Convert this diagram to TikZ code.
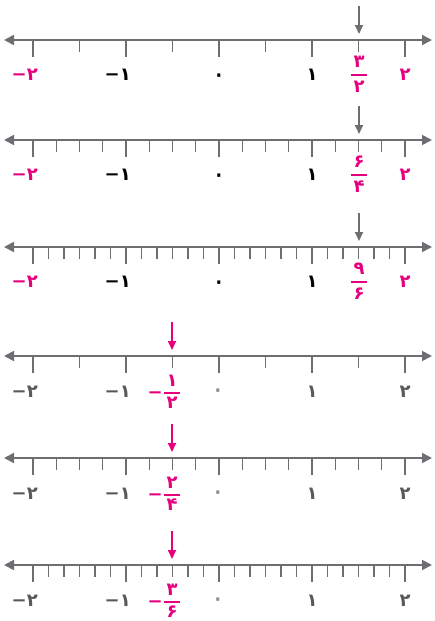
\documentclass[tikz,border=0pt]{standalone}
\usepackage{fontspec}
\usetikzlibrary{arrows.meta}
\newfontfamily\fanum{DejaVu Sans}
\definecolor{mag}{RGB}{230,0,126}
\definecolor{axgray}{RGB}{109,110,113}
\definecolor{lblgray}{RGB}{88,89,91}
\definecolor{zgray}{RGB}{140,140,142}

\begin{document}
\begin{tikzpicture}[x=1pt, y=-1pt,
  axis/.style={draw=axgray, line width=1.8pt,
               {Triangle[length=10pt,width=10pt]}-{Triangle[length=10pt,width=10pt]}},
  major/.style={draw=axgray, line width=1.6pt},
  minor/.style={draw=axgray, line width=1.1pt},
  ptr/.style={line width=1.8pt, -{Triangle[length=9pt,width=8pt]}},
  num/.style={font=\fontsize{18}{18}\selectfont\fanum\bfseries, inner sep=0pt},
  zero/.style={font=\fontsize{28}{28}\selectfont\fanum, inner sep=0pt},
  fbar/.style={fill, minimum width=16pt, minimum height=1.5pt, inner sep=0pt}
]
\useasboundingbox (0,0) rectangle (435,621);

% Rows 1-3: grey pointer at 3/2
\foreach \r/\y/\d/\n/\m in {1/40/2/۳/۲, 2/140/4/۶/۴, 3/247/6/۹/۶}{
  \coordinate (l\r) at (4,\y);
  \coordinate (r\r) at (432,\y);
  \draw[axis] (l\r) -- (r\r);
  \pgfmathtruncatemacro\nt{4*\d}
  \foreach \i in {0,...,\nt} \draw[minor] (33+93*\i/\d,\y) -- ++(0,12);
  \foreach \k in {0,...,4} \draw[major] (33+93*\k,\y) -- ++(0,17);
  % integer labels
  \node[num, mag, anchor=base east] (mtwo\r) at (38,\y+40) {−۲};
  \node[num, anchor=base east] (mone\r) at (131,\y+40) {−۱};
  \node[zero] (zero\r) at (219,\y+39) {۰};
  \node[num, anchor=base] (one\r) at (312,\y+40) {۱};
  \node[num, mag, anchor=base] (two\r) at (405,\y+40) {۲};
  % fraction
  \node[num, mag] (num\r) at (359,\y+22) {\n};
  \node[fbar, mag] (bar\r) at (359,\y+35) {};
  \node[num, mag] (den\r) at (359,\y+47) {\m};
  % pointer
  \coordinate (t\r) at (359,\y-34);
  \coordinate (h\r) at (359,\y-6);
  \draw[ptr, axgray] (t\r) -- (h\r);
}

% Rows 4-6: pink pointer at -1/2
\foreach \r/\y/\d/\n/\m in {4/356/2/۱/۲, 5/458/4/۲/۴, 6/565/6/۳/۶}{
  \coordinate (l\r) at (4,\y);
  \coordinate (r\r) at (432,\y);
  \draw[axis] (l\r) -- (r\r);
  \pgfmathtruncatemacro\nt{4*\d}
  \foreach \i in {0,...,\nt} \draw[minor] (33+93*\i/\d,\y) -- ++(0,12);
  \foreach \k in {0,...,4} \draw[major] (33+93*\k,\y) -- ++(0,17);
  % integer labels
  \node[num, lblgray, anchor=base east] (mtwo\r) at (38,\y+41) {−۲};
  \node[num, lblgray, anchor=base east] (mone\r) at (131,\y+41) {−۱};
  \node[zero, zgray] (zero\r) at (218,\y+38) {۰};
  \node[num, lblgray, anchor=base] (one\r) at (312,\y+41) {۱};
  \node[num, lblgray, anchor=base] (two\r) at (405,\y+41) {۲};
  % fraction
  \node[num, mag, anchor=base east] (neg\r) at (163,\y+42) {−};
  \node[num, mag] (num\r) at (172,\y+25) {\n};
  \node[fbar, mag] (bar\r) at (172,\y+37) {};
  \node[num, mag] (den\r) at (172,\y+47) {\m};
  % pointer
  \coordinate (t\r) at (172,\y-34);
  \coordinate (h\r) at (172,\y-6);
  \draw[ptr, mag] (t\r) -- (h\r);
}
\end{tikzpicture}
\end{document}
